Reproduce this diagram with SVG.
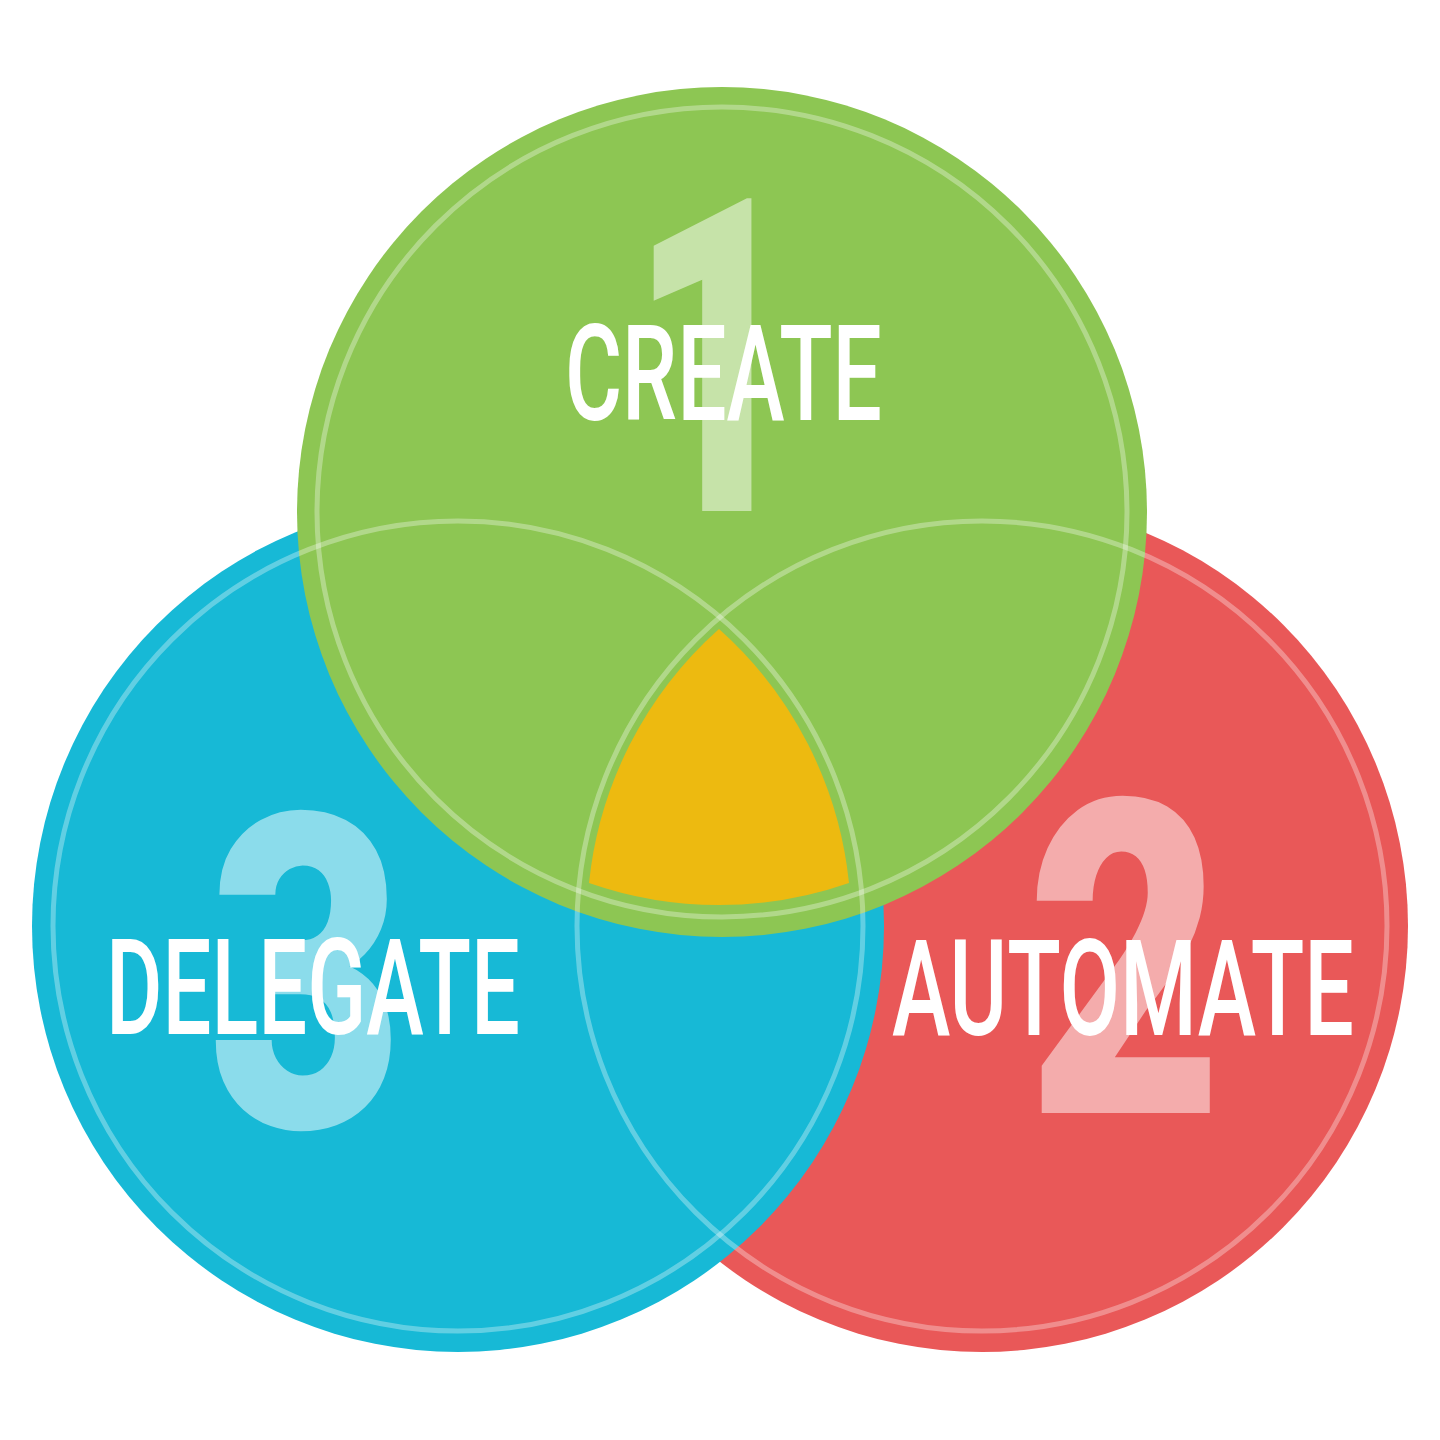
<svg xmlns="http://www.w3.org/2000/svg" width="1440" height="1440" viewBox="0 0 1440 1440">
<style>
.ring{fill:none;stroke:#ffffff;stroke-opacity:0.32;stroke-width:5}
.num{font-family:Roboto,"Liberation Sans",sans-serif;font-weight:900;font-size:440px;fill:#ffffff;fill-opacity:0.5;text-anchor:middle}
.lbl{font-family:Roboto,"Liberation Sans",sans-serif;font-weight:500;font-size:134px;fill:#ffffff}
</style>
<rect width="1440" height="1440" fill="#ffffff"/>
<g id="node-automate">
<circle cx="982" cy="926" r="426" fill="#e95858"/>
</g>
<g id="node-delegate">
<circle cx="458" cy="926" r="426" fill="#17b9d6"/>
</g>
<g id="node-create">
<circle cx="722" cy="512" r="425" fill="#8dc653"/>
</g>
<g id="node-core">
<path d="M719 629 A394 394 0 0 1 849 883 A394 394 0 0 1 589 883 A394 394 0 0 1 719 629 Z" fill="#edba10"/>
</g>
<g id="rings">
<circle class="ring" cx="982" cy="926" r="405"/>
<circle class="ring" cx="458" cy="926" r="405"/>
<circle class="ring" cx="722" cy="512" r="405"/>
</g>
<g id="numbers">
<text class="num" transform="translate(716,511) scale(0.68,1)" x="0" y="0">1</text>
<text class="num" transform="translate(1125,1113) scale(0.77,1)" x="0" y="0">2</text>
<text class="num" transform="translate(306,1127) scale(0.77,1)" x="0" y="0">3</text>
</g>
<g id="labels">
<text class="lbl" x="565" y="420" textLength="317" lengthAdjust="spacingAndGlyphs">CREATE</text>
<text class="lbl" x="106" y="1034" textLength="414" lengthAdjust="spacingAndGlyphs">DELEGATE</text>
<text class="lbl" x="892" y="1035" textLength="462" lengthAdjust="spacingAndGlyphs">AUTOMATE</text>
</g>
</svg>
